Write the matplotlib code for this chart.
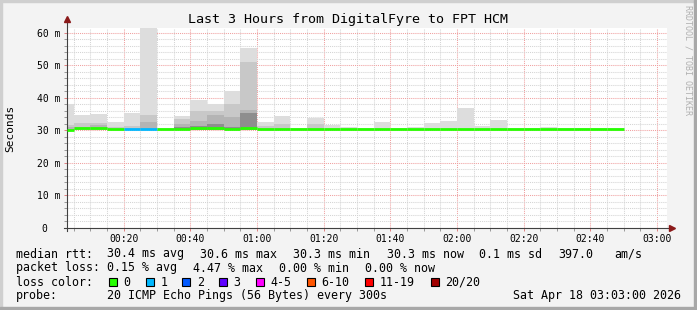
import numpy as np
import matplotlib
matplotlib.use("Agg")
import matplotlib.pyplot as plt
from matplotlib.patches import Rectangle

# time in minutes after 00:00, one step = 5 min (first step is cut by the window start)
step_start = [3] + list(range(5, 170, 5))
step_end = list(range(5, 171, 5))

# median rtt in ms per step
median = [30.2, 30.8, 30.8, 30.3, 30.3, 30.3, 30.3, 30.3, 30.7, 30.6, 30.3, 30.7,
          30.3, 30.3, 30.3, 30.3, 30.3, 30.3, 30.3, 30.3, 30.3, 30.3, 30.3, 30.3,
          30.3, 30.3, 30.3, 30.3, 30.3, 30.3, 30.3, 30.3, 30.3, 30.3]
# lost pings per step (out of 20)
loss = [0, 0, 0, 0, 1, 1, 0, 0, 0, 0, 0, 0,
        0, 0, 0, 0, 0, 0, 0, 0, 0, 0, 0, 0,
        0, 0, 0, 0, 0, 0, 0, 0, 0, 0]

# smoke: upper edge of each band (ms), nan = no band
nan = np.nan
smoke_max = [38.1, 34.8, 35.1, 32.6, 35.5, 62.0, 30.9, 34.3, 39.4, 38.2, 42.2, 55.4,
             32.6, 34.3, 30.7, 33.9, 31.8, 31.1, 30.8, 32.6, 30.6, 31.1, 32.4, 32.9,
             37.0, 31.5, 33.2, 30.6, 30.6, 31.2, 30.6, 30.6, 30.6, 30.6]
smoke_hi = [31.6, 32.2, 32.2, 31.0, 31.4, 34.8, nan, 33.4, 36.0, 36.0, 38.2, 51.1,
            31.4, 32.0, nan, 32.0, nan, nan, nan, nan, nan, nan, nan, nan,
            nan, nan, nan, nan, nan, nan, nan, nan, nan, nan]
smoke_mid = [31.0, 31.0, 31.6, nan, nan, 32.5, nan, 32.0, 32.9, 34.8, 34.0, 36.3,
             nan, nan, nan, nan, nan, nan, nan, nan, nan, nan, nan, nan,
             nan, nan, nan, nan, nan, nan, nan, nan, nan, nan]
smoke_dark = [nan, nan, nan, nan, nan, nan, nan, 31.0, 31.5, 32.0, 31.2, 35.3,
              nan, nan, nan, nan, nan, nan, nan, nan, nan, nan, nan, nan,
              nan, nan, nan, nan, nan, nan, nan, nan, nan, nan]

loss_colors = {0: '#26ff00', 1: '#00b8ff', 2: '#0059ff', 3: '#5e00ff',
               4: '#ff00ff', 6: '#ff5500', 11: '#ff0000', 20: '#a10000'}
loss_labels = ['0', '1', '2', '3', '4-5', '6-10', '11-19', '20/20']

xtick_min = [20, 40, 60, 80, 100, 120, 140, 160, 180]
xtick_lab = ['00:20', '00:40', '01:00', '01:20', '01:40', '02:00', '02:20', '02:40', '03:00']
ytick_val = [0, 10, 20, 30, 40, 50, 60]
ytick_lab = ['0  ', '10 m', '20 m', '30 m', '40 m', '50 m', '60 m']

W, H = 697, 310
plt.rcParams['font.family'] = ['DejaVu Sans Mono']
fig = plt.figure(figsize=(W / 100, H / 100), dpi=100)
fig.patch.set_facecolor('#f3f3f3')


def fx(x):
    return x / W


def fy(y):
    return 1 - y / H


# frame shading
fig.patches.append(Rectangle((0, fy(2)), 1, 2 / H, transform=fig.transFigure, color='#cfcfcf', zorder=0))
fig.patches.append(Rectangle((0, 0), 2 / W, 1, transform=fig.transFigure, color='#cfcfcf', zorder=0))
fig.patches.append(Rectangle((0, 0), 1, 3 / H, transform=fig.transFigure, color='#a8a8a8', zorder=0))
fig.patches.append(Rectangle((fx(W - 3), 0), 3 / W, 1, transform=fig.transFigure, color='#a8a8a8', zorder=0))

ax = fig.add_axes([fx(67), fy(228), 600 / W, 200 / H])
ax.set_facecolor('white')
ax.set_xlim(3, 183)
ax.set_ylim(0, 61.5)

left = np.array(step_start)
width = np.array(step_end) - left
base = 30.0
for vals, col in [(smoke_max, '#dddddd'), (smoke_hi, '#c8c8c8'),
                  (smoke_mid, '#b4b4b4'), (smoke_dark, '#8e8e8e')]:
    v = np.array(vals)
    ok = ~np.isnan(v)
    ax.bar(left[ok], v[ok] - base, width[ok], bottom=base, align='edge',
           color=col, linewidth=0, zorder=2)


def loss_color(n):
    key = max(k for k in loss_colors if k <= n)
    return loss_colors[key]


ax.hlines(median, left, left + width, colors=[loss_color(n) for n in loss],
          linewidth=2.0, zorder=4)

# grid
ax.set_xticks(xtick_min)
ax.set_xticklabels(xtick_lab)
ax.set_xticks(np.arange(5, 181, 5), minor=True)
ax.set_yticks(ytick_val)
ax.set_yticklabels(ytick_lab)
ax.set_yticks(np.arange(0, 61, 2), minor=True)
ax.grid(which='minor', color='#d4d4d4', linestyle=(0, (1, 1)), linewidth=0.75, zorder=1)
ax.grid(which='major', color='#f0a0a0', linestyle=(0, (1, 1)), linewidth=0.75, zorder=1)
ax.set_axisbelow(True)
ax.tick_params(which='both', direction='out', labelsize=7, length=2, width=0.7,
               colors='#999999', labelcolor='black')
ax.tick_params(which='major', colors='#e08080', labelcolor='black')
ax.tick_params(axis='x', pad=2.5)
ax.tick_params(axis='y', pad=3)

for s in ['top', 'right']:
    ax.spines[s].set_visible(False)
for s in ['left', 'bottom']:
    ax.spines[s].set_linewidth(0.8)
    ax.spines[s].set_color('#404040')
ax.spines['left'].set_bounds(-1, 63.5)
ax.spines['bottom'].set_bounds(2, 184.5)
ax.plot([3], [64.3], marker='^', color='#8b1a1a', markersize=4, clip_on=False, zorder=6)
ax.plot([184.5], [0], marker='>', color='#8b1a1a', markersize=4, clip_on=False, zorder=6)

# texts
fig.text(fx(348), fy(19), 'Last 3 Hours from DigitalFyre to FPT HCM', fontsize=9.6,
         ha='center', va='center')
fig.text(fx(10), fy(128), 'Seconds', fontsize=8, rotation=90, ha='center', va='center')
fig.text(fx(688), fy(60), 'RRDTOOL / TOBI OETIKER', fontsize=6, rotation=-90,
         ha='center', va='center', color='#b0b0b0')

fs = 8.4
rows = [
    (254, [(16, 'median rtt:'), (107.3, '30.4 ms avg'), (200.3, '30.6 ms max'),
           (293.3, '30.3 ms min'), (386.7, '30.3 ms now'), (479.3, '0.1 ms sd'),
           (558.3, '397.0'), (614, 'am/s')]),
    (268, [(16, 'packet loss:'), (107.3, '0.15 % avg'), (193.3, '4.47 % max'),
           (279.3, '0.00 % min'), (365.3, '0.00 % now')]),
    (282, [(16, 'loss color:')]),
    (296, [(16, 'probe:'), (107.3, '20 ICMP Echo Pings (56 Bytes) every 300s'),
           (513.3, 'Sat Apr 18 03:03:00 2026')]),
]
for y, items in rows:
    for x, t in items:
        fig.text(fx(x), fy(y), t, fontsize=fs, ha='left', va='center')

box_x = [108.7, 145.7, 182.3, 219, 256, 307, 365.3, 430.7]
for bx, lab, key in zip(box_x, loss_labels, loss_colors):
    fig.patches.append(Rectangle((fx(bx), fy(286)), 8 / W, 8 / H, transform=fig.transFigure,
                                 facecolor=loss_colors[key], edgecolor='black', linewidth=0.8))
    fig.text(fx(bx + 14.7), fy(282), lab, fontsize=fs, ha='left', va='center')

fig.savefig('out.png', dpi=100, facecolor=fig.get_facecolor())
